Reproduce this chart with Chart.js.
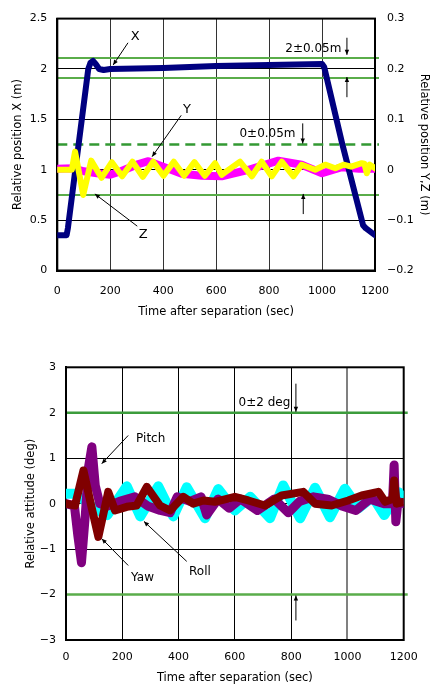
<!DOCTYPE html>
<html><head><meta charset="utf-8">
<script src="https://cdn.jsdelivr.net/npm/chart.js@4"></script>
<style>
html,body{margin:0;padding:0;background:#fff;width:430px;height:684px;overflow:hidden}
#w1{position:absolute;left:0;top:0;width:430px;height:330px}
#w2{position:absolute;left:0;top:345px;width:430px;height:339px}
</style></head><body>
<div id="w1"><canvas id="c1"></canvas></div>
<div id="w2"><canvas id="c2"></canvas></div>
<script>
// ---------- data ----------
// Top chart: relative position
const xTime = [0, 35, 40, 117, 125, 135, 145, 158, 175, 200, 400, 600, 800, 1000, 1008, 1075, 1155, 1165, 1200];
const xPos  = [0.35, 0.35, 0.42, 2.0, 2.06, 2.08, 2.05, 2.0, 1.99, 2.0, 2.01, 2.03, 2.04, 2.05, 2.02, 1.27, 0.45, 0.42, 0.35];

const yTime = [0, 60, 100, 150, 200, 240, 300, 344, 400, 470, 546, 621, 722, 835, 923, 1000, 1075, 1140, 1200];
const yPos  = [0.002, 0.003, -0.003, -0.007, -0.01, -0.003, 0.01, 0.017, 0.006, -0.008, -0.012, -0.013, 0, 0.018, 0.01, -0.007, 0.005, 0.002, 0.002];

const zTime = [0, 55, 67, 98, 128, 167, 206, 245, 284, 323, 362, 401, 440, 479, 518, 557, 596, 621, 690, 735, 772, 810, 848, 892, 923, 974, 1012, 1050, 1081, 1110, 1150, 1160, 1169, 1180, 1200];
const zPos  = [0, 0, 0.036, -0.05, 0.018, -0.016, 0.015, -0.013, 0.016, -0.014, 0.016, -0.012, 0.016, -0.012, 0.015, -0.012, 0.013, -0.01, 0.016, -0.013, 0.016, -0.013, 0.016, -0.013, 0.01, 0, 0.01, 0.003, 0.01, 0.006, 0.013, 0.012, -0.007, 0.01, 0.003];

// Bottom chart: relative attitude
const yawTime = [0, 32, 62, 88, 115, 150, 174, 216, 251, 287, 334, 370, 417, 452, 488, 529, 600, 648, 707, 766, 843, 885, 944, 1003, 1051, 1110, 1134, 1160, 1166, 1175, 1200];
const yawVal  = [0, -0.04, 0.73, 0.0, -0.73, 0.26, -0.15, -0.07, -0.04, 0.37, -0.04, -0.15, 0.15, 0.0, 0.07, 0.04, 0.15, 0.07, -0.04, 0.18, 0.26, 0.0, -0.04, 0.07, 0.18, 0.26, 0.04, 0.1, 0.51, 0.0, 0.04];

const pitchTime = [0, 30, 42, 55, 68, 80, 92, 104, 120, 150, 190, 245, 290, 335, 370, 395, 440, 480, 500, 540, 580, 620, 680, 740, 790, 830, 880, 930, 980, 1030, 1080, 1130, 1160, 1166, 1172, 1180, 1200];
const pitchVal  = [0, -0.05, -0.7, -1.3, -0.3, 0.8, 1.25, 0.4, 0, -0.05, 0.05, 0.15, -0.05, -0.15, -0.2, 0.15, 0.05, 0.15, -0.25, 0.1, -0.1, 0.1, -0.15, 0.1, -0.2, 0.05, 0.15, 0.1, -0.05, -0.15, 0.1, 0, 0, 0.85, -0.4, 0.05, 0];

const rollTime = [0, 30, 60, 100, 147, 216, 264, 328, 381, 429, 494, 541, 600, 655, 725, 772, 832, 885, 938, 991, 1040, 1090, 1131, 1182, 1200];
const rollVal  = [0.22, 0.22, 0.1, -0.1, -0.25, 0.38, -0.28, 0.38, -0.28, 0.36, -0.32, 0.32, -0.15, 0.15, -0.32, 0.4, -0.32, 0.35, -0.3, 0.33, -0.1, 0.15, -0.25, 0.25, 0.1];

// tick settings
const timeMin = 0, timeMax = 1200, timeStep = 200;
const posXMin = 0, posXMax = 2.5, posXStep = 0.5;
const posYZMin = -0.2, posYZMax = 0.3, posYZStep = 0.1;
const attMin = -3, attMax = 3, attStep = 1;

// reference lines
const topRefLeft  = [2.11, 1.91];          // X tolerance band (left axis)
const topRefRightDashed = [0.05];           // Y,Z tolerance (right axis)
const topRefRightSolid  = [-0.05];
const botRef = [2, -2];

// ---------- helpers ----------
const pts = (t, v) => t.map((x, i) => ({x, y: v[i]}));
const FONT = "'DejaVu Sans', 'Liberation Sans', sans-serif";
const fmt = v => String(+(+v).toFixed(3)).replace('-', '\u2212');

function arrow(ctx, x1, y1, x2, y2) {
  ctx.save();
  ctx.strokeStyle = '#000'; ctx.fillStyle = '#000'; ctx.lineWidth = 1;
  ctx.beginPath(); ctx.moveTo(x1, y1); ctx.lineTo(x2, y2); ctx.stroke();
  const a = Math.atan2(y2 - y1, x2 - x1), L = 5, W = 2.2;
  ctx.beginPath();
  ctx.moveTo(x2, y2);
  ctx.lineTo(x2 - L * Math.cos(a) + W * Math.sin(a), y2 - L * Math.sin(a) - W * Math.cos(a));
  ctx.lineTo(x2 - L * Math.cos(a) - W * Math.sin(a), y2 - L * Math.sin(a) + W * Math.cos(a));
  ctx.closePath(); ctx.fill();
  ctx.restore();
}

function makeDecor(cfg) {
  return {
    id: 'decor',
    beforeDatasetsDraw(chart) {
      const {ctx, chartArea: a} = chart;
      ctx.save();
      cfg.lines.forEach(l => {
        const sc = chart.scales[l.axis];
        const y = sc.getPixelForValue(l.v);
        ctx.strokeStyle = l.color; ctx.lineWidth = l.w;
        ctx.setLineDash(l.dash || []);
        ctx.beginPath(); ctx.moveTo(a.left, y); ctx.lineTo(a.right + (l.ext || 0), y); ctx.stroke();
      });
      ctx.setLineDash([]);
      ctx.strokeStyle = '#000'; ctx.lineWidth = 2;
      ctx.strokeRect(a.left, a.top, a.right - a.left, a.bottom - a.top);
      ctx.restore();
    },
    afterDatasetsDraw(chart) {
      const {ctx} = chart;
      const xs = chart.scales.x, ys = chart.scales[cfg.axis];
      cfg.arrows.forEach(r => arrow(ctx, xs.getPixelForValue(r[0]), ys.getPixelForValue(r[1]), xs.getPixelForValue(r[2]), ys.getPixelForValue(r[3])));
      ctx.save();
      ctx.fillStyle = '#000'; ctx.textAlign = 'center'; ctx.textBaseline = 'middle';
      cfg.texts.forEach(t => {
        ctx.font = t.size + 'px ' + FONT;
        ctx.fillText(t.text, xs.getPixelForValue(t.t), ys.getPixelForValue(t.v));
      });
      ctx.restore();
    }
  };
}

const baseLine = {pointRadius: 0, tension: 0, borderJoinStyle: 'round', borderCapStyle: 'round', fill: false};

// ---------- top chart ----------
new Chart(document.getElementById('c1'), {
  type: 'line',
  data: {datasets: [
    {...baseLine, label: 'Z', data: pts(zTime, zPos), yAxisID: 'y1', borderColor: '#ffff00', borderWidth: 6},
    {...baseLine, label: 'X', data: pts(xTime, xPos), yAxisID: 'y', borderColor: '#000080', borderWidth: 6},
    {...baseLine, label: 'Y', data: pts(yTime, yPos), yAxisID: 'y1', borderColor: '#ff00ff', borderWidth: 8}
  ]},
  options: {
    responsive: true, maintainAspectRatio: false, animation: false, devicePixelRatio: 1,
    layout: {padding: {top: 15, left: 0, right: 0, bottom: 0}},
    plugins: {legend: {display: false}, tooltip: {enabled: false}},
    scales: {
      x: {type: 'linear', min: timeMin, max: timeMax,
        ticks: {stepSize: timeStep, color: '#000', font: {family: FONT, size: 11}, padding: 14, maxRotation: 0, callback: v => fmt(v)},
        grid: {color: '#333', drawTicks: false}, border: {color: '#000', width: 2},
        title: {display: true, text: 'Time after separation (sec)', color: '#000', font: {family: FONT, size: 11.5}, padding: {top: 0, bottom: 11}},
        afterFit: s => { s.height = 59.5; }},
      y: {position: 'left', min: posXMin, max: posXMax,
        ticks: {stepSize: posXStep, color: '#000', font: {family: FONT, size: 11}, padding: 10, callback: v => fmt(v)},
        grid: {color: '#000', drawTicks: false}, border: {color: '#000', width: 2},
        title: {display: true, text: 'Relative position X (m)', color: '#000', font: {family: FONT, size: 11.5}, padding: {top: 11, bottom: 0}},
        afterFit: s => { s.width = 57.3; }},
      y1: {position: 'right', min: posYZMin, max: posYZMax,
        ticks: {stepSize: posYZStep, color: '#000', font: {family: FONT, size: 11}, padding: 12, callback: v => fmt(v)},
        grid: {display: false, drawTicks: false}, border: {color: '#000', width: 2},
        title: {display: true, text: 'Relative position Y,Z (m)', color: '#000', font: {family: FONT, size: 11.5, lineHeight: 1}, padding: {top: 0, bottom: 0}},
        afterFit: s => { s.width = 55; }}
    }
  },
  plugins: [makeDecor({
    axis: 'y',
    lines: [
      {axis: 'y', v: topRefLeft[0], color: '#5aad4a', w: 2, ext: 4},
      {axis: 'y', v: topRefLeft[1], color: '#5aad4a', w: 2, ext: 4},
      {axis: 'y1', v: topRefRightDashed[0], color: '#339933', w: 2.5, dash: [10, 6], ext: 4},
      {axis: 'y1', v: topRefRightSolid[0], color: '#5aad4a', w: 2, ext: 4}
    ],
    arrows: [[267, 2.26, 211, 2.04], [468, 1.54, 358, 1.13], [302, 0.44, 142, 0.76],
             [1094, 2.31, 1094, 2.14], [1094, 1.72, 1094, 1.92],
             [927, 1.46, 927, 1.26], [929, 0.56, 929, 0.76]],
    texts: [{t: 294, v: 2.32, text: 'X', size: 13}, {t: 490, v: 1.60, text: 'Y', size: 13},
            {t: 324, v: 0.36, text: 'Z', size: 13},
            {t: 967, v: 2.20, text: '2\u00b10.05m', size: 12}, {t: 794, v: 1.36, text: '0\u00b10.05m', size: 12}]
  })]
});

// ---------- bottom chart ----------
new Chart(document.getElementById('c2'), {
  type: 'line',
  data: {datasets: [
    {...baseLine, label: 'Yaw', data: pts(yawTime, yawVal), borderColor: '#800000', borderWidth: 8},
    {...baseLine, label: 'Pitch', data: pts(pitchTime, pitchVal), borderColor: '#800080', borderWidth: 9},
    {...baseLine, label: 'Roll', data: pts(rollTime, rollVal), borderColor: '#00ffff', borderWidth: 10}
  ]},
  options: {
    responsive: true, maintainAspectRatio: false, animation: false, devicePixelRatio: 1,
    layout: {padding: {top: 22.3, left: 0, right: 26.3, bottom: 0}},
    plugins: {legend: {display: false}, tooltip: {enabled: false}},
    scales: {
      x: {type: 'linear', min: timeMin, max: timeMax,
        ticks: {stepSize: timeStep, color: '#000', font: {family: FONT, size: 11}, padding: 11, maxRotation: 0, callback: v => fmt(v)},
        grid: {color: c => c.tick && c.tick.value === 1000 ? '#808080' : '#000', lineWidth: c => c.tick && c.tick.value === 1000 ? 2 : 1, drawTicks: false},
        border: {color: '#000', width: 2},
        title: {display: true, text: 'Time after separation (sec)', color: '#000', font: {family: FONT, size: 11.5, lineHeight: 1}, padding: {top: 0, bottom: 0}},
        afterFit: s => { s.height = 44; }},
      y: {position: 'left', min: attMin, max: attMax,
        ticks: {stepSize: attStep, color: '#000', font: {family: FONT, size: 11}, padding: 10, callback: v => fmt(v)},
        grid: {color: '#000', drawTicks: false}, border: {color: '#000', width: 2},
        title: {display: true, text: 'Relative attitude (deg)', color: '#000', font: {family: FONT, size: 11.5}, padding: {top: 24, bottom: 0}},
        afterFit: s => { s.width = 66; }}
    }
  },
  plugins: [makeDecor({
    axis: 'y',
    lines: [
      {axis: 'y', v: botRef[0], color: '#3c9c3c', w: 2.5, ext: 4},
      {axis: 'y', v: botRef[1], color: '#5aad4a', w: 2.5, ext: 4}
    ],
    arrows: [[221, 1.5, 127, 0.88], [221, -1.36, 127, -0.77], [429, -1.27, 277, -0.39],
             [817, 2.64, 817, 2.02], [817, -2.57, 817, -2.02]],
    texts: [{t: 301, v: 1.43, text: 'Pitch', size: 12}, {t: 272, v: -1.63, text: 'Yaw', size: 12},
            {t: 476, v: -1.50, text: 'Roll', size: 12}, {t: 705, v: 2.22, text: '0\u00b12 deg', size: 12}]
  })]
});
</script>
</body></html>
